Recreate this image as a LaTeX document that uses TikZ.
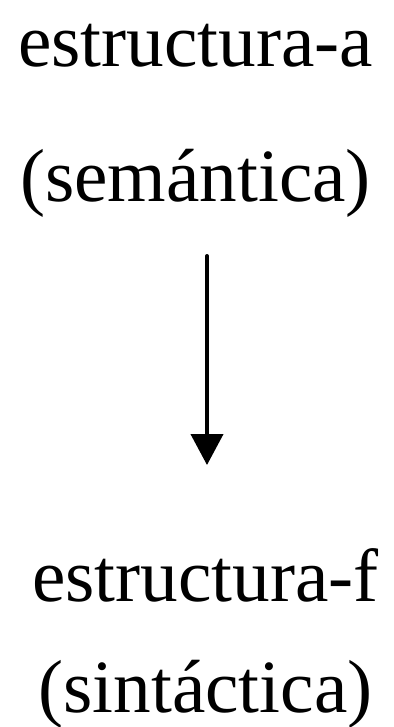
\documentclass[tikz,border=0pt]{standalone}
\usepackage{fontspec}
\setmainfont{Liberation Serif}
\usepackage{tikz}
\usetikzlibrary{arrows.meta, positioning, calc}
\tikzset{every node/.style={font=\fontsize{37.6}{45}\selectfont, inner sep=0pt, outer sep=0pt}, every path/.style={line cap=round, line join=round}, >={Triangle[length=15.5pt, width=16pt]}}
\tikzset{level/.style={align=center, anchor=base}}

\begin{document}
\begin{tikzpicture}[x=0.5pt, y=0.5pt]
    \useasboundingbox (0,0) rectangle (394,727);
    \node [level] (semA) at (195.5,525) {estructura-a\\[22.5pt](semántica)};
    \node [level] (sinF) at (205.5,14) {estructura-f\\[10.5pt](sintáctica)};
    \draw [->, line width=2pt, shorten <=19pt, shorten >=42pt] ($(semA.south -| sinF.north)+(1.5,0)$) -- ($(sinF.north)+(1.5,0)$);
\end{tikzpicture}
\end{document}
